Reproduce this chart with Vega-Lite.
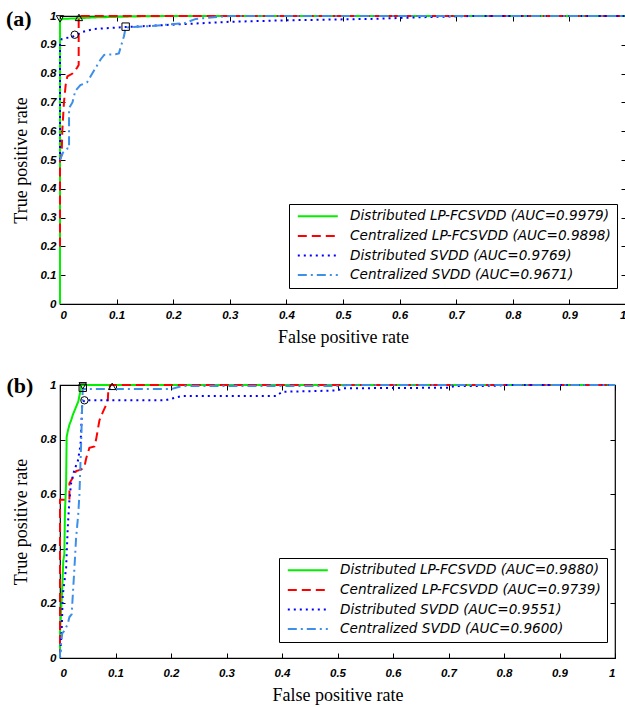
{
  "$schema": "https://vega.github.io/schema/vega-lite/v6.json",
  "background": "white",
  "padding": {"left": 5, "top": 6, "right": 0, "bottom": 0},
  "spacing": 25,
  "config": {
    "view": {"stroke": "black", "strokeWidth": 1.2},
    "axis": {
      "grid": false,
      "domain": false,
      "tickColor": "black",
      "tickSize": -5,
      "labelFont": "Liberation Sans",
      "labelFontWeight": "bold",
      "labelFontStyle": "italic",
      "labelFontSize": 11.5,
      "labelColor": "black",
      "titleFont": "Liberation Serif",
      "titleFontSize": 18,
      "titleFontWeight": "normal",
      "titleColor": "black",
      "format": "~g"
    },
    "legend": {
      "title": null,
      "orient": "none",
      "symbolType": "M-4,0H4",
      "symbolSize": 100,
      "symbolOffset": 16.5,
      "symbolStrokeWidth": 2,
      "labelFont": "DejaVu Sans",
      "labelFontStyle": "italic",
      "labelFontSize": 13.6,
      "labelColor": "black",
      "labelOffset": 25.5,
      "labelLimit": 400,
      "strokeColor": "black",
      "fillColor": "white",
      "padding": 5.5,
      "rowPadding": 4.6,
      "cornerRadius": 0
    }
  },
  "datasets": {
    "a_lines": [
      {"s": "Distributed LP-FCSVDD (AUC=0.9979)", "x": 0, "y": 0},
      {"s": "Distributed LP-FCSVDD (AUC=0.9979)", "x": 0, "y": 0.985},
      {"s": "Distributed LP-FCSVDD (AUC=0.9979)", "x": 0.005, "y": 0.99},
      {"s": "Distributed LP-FCSVDD (AUC=0.9979)", "x": 0.03, "y": 0.992},
      {"s": "Distributed LP-FCSVDD (AUC=0.9979)", "x": 0.06, "y": 0.995},
      {"s": "Distributed LP-FCSVDD (AUC=0.9979)", "x": 0.1, "y": 0.997},
      {"s": "Distributed LP-FCSVDD (AUC=0.9979)", "x": 0.15, "y": 0.999},
      {"s": "Distributed LP-FCSVDD (AUC=0.9979)", "x": 0.2, "y": 1},
      {"s": "Distributed LP-FCSVDD (AUC=0.9979)", "x": 1, "y": 1},
      {"s": "Centralized LP-FCSVDD (AUC=0.9898)", "x": 0, "y": 0.2},
      {"s": "Centralized LP-FCSVDD (AUC=0.9898)", "x": 0, "y": 0.5},
      {"s": "Centralized LP-FCSVDD (AUC=0.9898)", "x": 0.003, "y": 0.52},
      {"s": "Centralized LP-FCSVDD (AUC=0.9898)", "x": 0.004, "y": 0.6},
      {"s": "Centralized LP-FCSVDD (AUC=0.9898)", "x": 0.007, "y": 0.7},
      {"s": "Centralized LP-FCSVDD (AUC=0.9898)", "x": 0.01, "y": 0.76},
      {"s": "Centralized LP-FCSVDD (AUC=0.9898)", "x": 0.013, "y": 0.79},
      {"s": "Centralized LP-FCSVDD (AUC=0.9898)", "x": 0.022, "y": 0.8},
      {"s": "Centralized LP-FCSVDD (AUC=0.9898)", "x": 0.03, "y": 0.82},
      {"s": "Centralized LP-FCSVDD (AUC=0.9898)", "x": 0.033, "y": 0.83},
      {"s": "Centralized LP-FCSVDD (AUC=0.9898)", "x": 0.033, "y": 1},
      {"s": "Centralized LP-FCSVDD (AUC=0.9898)", "x": 0.2, "y": 1},
      {"s": "Centralized LP-FCSVDD (AUC=0.9898)", "x": 1, "y": 1},
      {"s": "Distributed SVDD (AUC=0.9769)", "x": 0, "y": 0.5},
      {"s": "Distributed SVDD (AUC=0.9769)", "x": 0, "y": 0.9},
      {"s": "Distributed SVDD (AUC=0.9769)", "x": 0.003, "y": 0.92},
      {"s": "Distributed SVDD (AUC=0.9769)", "x": 0.015, "y": 0.925},
      {"s": "Distributed SVDD (AUC=0.9769)", "x": 0.025, "y": 0.93},
      {"s": "Distributed SVDD (AUC=0.9769)", "x": 0.04, "y": 0.945},
      {"s": "Distributed SVDD (AUC=0.9769)", "x": 0.06, "y": 0.955},
      {"s": "Distributed SVDD (AUC=0.9769)", "x": 0.1, "y": 0.96},
      {"s": "Distributed SVDD (AUC=0.9769)", "x": 0.15, "y": 0.965},
      {"s": "Distributed SVDD (AUC=0.9769)", "x": 0.21, "y": 0.971},
      {"s": "Distributed SVDD (AUC=0.9769)", "x": 0.3, "y": 0.98},
      {"s": "Distributed SVDD (AUC=0.9769)", "x": 0.4, "y": 0.985},
      {"s": "Distributed SVDD (AUC=0.9769)", "x": 0.55, "y": 0.99},
      {"s": "Distributed SVDD (AUC=0.9769)", "x": 0.66, "y": 0.997},
      {"s": "Distributed SVDD (AUC=0.9769)", "x": 0.73, "y": 1},
      {"s": "Distributed SVDD (AUC=0.9769)", "x": 1, "y": 1},
      {"s": "Centralized SVDD (AUC=0.9671)", "x": 0, "y": 0.5},
      {"s": "Centralized SVDD (AUC=0.9671)", "x": 0.005, "y": 0.525},
      {"s": "Centralized SVDD (AUC=0.9671)", "x": 0.013, "y": 0.54},
      {"s": "Centralized SVDD (AUC=0.9671)", "x": 0.016, "y": 0.54},
      {"s": "Centralized SVDD (AUC=0.9671)", "x": 0.016, "y": 0.68},
      {"s": "Centralized SVDD (AUC=0.9671)", "x": 0.022, "y": 0.7},
      {"s": "Centralized SVDD (AUC=0.9671)", "x": 0.027, "y": 0.74},
      {"s": "Centralized SVDD (AUC=0.9671)", "x": 0.036, "y": 0.76},
      {"s": "Centralized SVDD (AUC=0.9671)", "x": 0.048, "y": 0.77},
      {"s": "Centralized SVDD (AUC=0.9671)", "x": 0.057, "y": 0.8},
      {"s": "Centralized SVDD (AUC=0.9671)", "x": 0.066, "y": 0.83},
      {"s": "Centralized SVDD (AUC=0.9671)", "x": 0.072, "y": 0.85},
      {"s": "Centralized SVDD (AUC=0.9671)", "x": 0.078, "y": 0.865},
      {"s": "Centralized SVDD (AUC=0.9671)", "x": 0.098, "y": 0.867},
      {"s": "Centralized SVDD (AUC=0.9671)", "x": 0.104, "y": 0.87},
      {"s": "Centralized SVDD (AUC=0.9671)", "x": 0.113, "y": 0.93},
      {"s": "Centralized SVDD (AUC=0.9671)", "x": 0.116, "y": 0.96},
      {"s": "Centralized SVDD (AUC=0.9671)", "x": 0.16, "y": 0.965},
      {"s": "Centralized SVDD (AUC=0.9671)", "x": 0.22, "y": 0.975},
      {"s": "Centralized SVDD (AUC=0.9671)", "x": 0.24, "y": 0.99},
      {"s": "Centralized SVDD (AUC=0.9671)", "x": 0.3, "y": 1},
      {"s": "Centralized SVDD (AUC=0.9671)", "x": 1, "y": 1}
    ],
    "a_pts": [
      {"m": "triangle-down", "x": 0, "y": 0.99},
      {"m": "triangle-up", "x": 0.0335, "y": 0.995},
      {"m": "circle", "x": 0.026, "y": 0.935},
      {"m": "square", "x": 0.116, "y": 0.963}
    ],
    "b_lines": [
      {"s": "Distributed LP-FCSVDD (AUC=0.9880)", "x": 0, "y": 0},
      {"s": "Distributed LP-FCSVDD (AUC=0.9880)", "x": 0, "y": 0.09},
      {"s": "Distributed LP-FCSVDD (AUC=0.9880)", "x": 0.0036, "y": 0.235},
      {"s": "Distributed LP-FCSVDD (AUC=0.9880)", "x": 0.006, "y": 0.357},
      {"s": "Distributed LP-FCSVDD (AUC=0.9880)", "x": 0.0078, "y": 0.38},
      {"s": "Distributed LP-FCSVDD (AUC=0.9880)", "x": 0.009, "y": 0.54},
      {"s": "Distributed LP-FCSVDD (AUC=0.9880)", "x": 0.011, "y": 0.64},
      {"s": "Distributed LP-FCSVDD (AUC=0.9880)", "x": 0.012, "y": 0.81},
      {"s": "Distributed LP-FCSVDD (AUC=0.9880)", "x": 0.014, "y": 0.83},
      {"s": "Distributed LP-FCSVDD (AUC=0.9880)", "x": 0.017, "y": 0.855},
      {"s": "Distributed LP-FCSVDD (AUC=0.9880)", "x": 0.02, "y": 0.87},
      {"s": "Distributed LP-FCSVDD (AUC=0.9880)", "x": 0.023, "y": 0.89},
      {"s": "Distributed LP-FCSVDD (AUC=0.9880)", "x": 0.029, "y": 0.92},
      {"s": "Distributed LP-FCSVDD (AUC=0.9880)", "x": 0.033, "y": 0.94},
      {"s": "Distributed LP-FCSVDD (AUC=0.9880)", "x": 0.037, "y": 0.98},
      {"s": "Distributed LP-FCSVDD (AUC=0.9880)", "x": 0.038, "y": 1},
      {"s": "Distributed LP-FCSVDD (AUC=0.9880)", "x": 1, "y": 1},
      {"s": "Centralized LP-FCSVDD (AUC=0.9739)", "x": 0, "y": 0},
      {"s": "Centralized LP-FCSVDD (AUC=0.9739)", "x": 0, "y": 0.58},
      {"s": "Centralized LP-FCSVDD (AUC=0.9739)", "x": 0.017, "y": 0.58},
      {"s": "Centralized LP-FCSVDD (AUC=0.9739)", "x": 0.017, "y": 0.64},
      {"s": "Centralized LP-FCSVDD (AUC=0.9739)", "x": 0.023, "y": 0.66},
      {"s": "Centralized LP-FCSVDD (AUC=0.9739)", "x": 0.029, "y": 0.685},
      {"s": "Centralized LP-FCSVDD (AUC=0.9739)", "x": 0.038, "y": 0.69},
      {"s": "Centralized LP-FCSVDD (AUC=0.9739)", "x": 0.044, "y": 0.7},
      {"s": "Centralized LP-FCSVDD (AUC=0.9739)", "x": 0.047, "y": 0.73},
      {"s": "Centralized LP-FCSVDD (AUC=0.9739)", "x": 0.053, "y": 0.77},
      {"s": "Centralized LP-FCSVDD (AUC=0.9739)", "x": 0.062, "y": 0.775},
      {"s": "Centralized LP-FCSVDD (AUC=0.9739)", "x": 0.065, "y": 0.8},
      {"s": "Centralized LP-FCSVDD (AUC=0.9739)", "x": 0.071, "y": 0.87},
      {"s": "Centralized LP-FCSVDD (AUC=0.9739)", "x": 0.077, "y": 0.9},
      {"s": "Centralized LP-FCSVDD (AUC=0.9739)", "x": 0.086, "y": 0.94},
      {"s": "Centralized LP-FCSVDD (AUC=0.9739)", "x": 0.087, "y": 0.98},
      {"s": "Centralized LP-FCSVDD (AUC=0.9739)", "x": 0.091, "y": 1},
      {"s": "Centralized LP-FCSVDD (AUC=0.9739)", "x": 0.11, "y": 1},
      {"s": "Centralized LP-FCSVDD (AUC=0.9739)", "x": 1, "y": 1},
      {"s": "Distributed SVDD (AUC=0.9551)", "x": 0, "y": 0},
      {"s": "Distributed SVDD (AUC=0.9551)", "x": 0.003, "y": 0.1},
      {"s": "Distributed SVDD (AUC=0.9551)", "x": 0.005, "y": 0.23},
      {"s": "Distributed SVDD (AUC=0.9551)", "x": 0.011, "y": 0.33},
      {"s": "Distributed SVDD (AUC=0.9551)", "x": 0.014, "y": 0.48},
      {"s": "Distributed SVDD (AUC=0.9551)", "x": 0.017, "y": 0.58},
      {"s": "Distributed SVDD (AUC=0.9551)", "x": 0.02, "y": 0.64},
      {"s": "Distributed SVDD (AUC=0.9551)", "x": 0.026, "y": 0.69},
      {"s": "Distributed SVDD (AUC=0.9551)", "x": 0.032, "y": 0.72},
      {"s": "Distributed SVDD (AUC=0.9551)", "x": 0.037, "y": 0.78},
      {"s": "Distributed SVDD (AUC=0.9551)", "x": 0.04, "y": 0.93},
      {"s": "Distributed SVDD (AUC=0.9551)", "x": 0.044, "y": 0.944},
      {"s": "Distributed SVDD (AUC=0.9551)", "x": 0.19, "y": 0.944},
      {"s": "Distributed SVDD (AUC=0.9551)", "x": 0.22, "y": 0.96},
      {"s": "Distributed SVDD (AUC=0.9551)", "x": 0.39, "y": 0.96},
      {"s": "Distributed SVDD (AUC=0.9551)", "x": 0.4, "y": 0.975},
      {"s": "Distributed SVDD (AUC=0.9551)", "x": 0.5, "y": 0.98},
      {"s": "Distributed SVDD (AUC=0.9551)", "x": 0.51, "y": 0.988},
      {"s": "Distributed SVDD (AUC=0.9551)", "x": 0.7, "y": 0.99},
      {"s": "Distributed SVDD (AUC=0.9551)", "x": 0.71, "y": 0.996},
      {"s": "Distributed SVDD (AUC=0.9551)", "x": 0.786, "y": 0.997},
      {"s": "Distributed SVDD (AUC=0.9551)", "x": 0.8, "y": 1},
      {"s": "Distributed SVDD (AUC=0.9551)", "x": 1, "y": 1},
      {"s": "Centralized SVDD (AUC=0.9600)", "x": 0, "y": 0},
      {"s": "Centralized SVDD (AUC=0.9600)", "x": 0, "y": 0.015},
      {"s": "Centralized SVDD (AUC=0.9600)", "x": 0.004, "y": 0.09},
      {"s": "Centralized SVDD (AUC=0.9600)", "x": 0.008, "y": 0.1},
      {"s": "Centralized SVDD (AUC=0.9600)", "x": 0.014, "y": 0.125},
      {"s": "Centralized SVDD (AUC=0.9600)", "x": 0.017, "y": 0.15},
      {"s": "Centralized SVDD (AUC=0.9600)", "x": 0.021, "y": 0.16},
      {"s": "Centralized SVDD (AUC=0.9600)", "x": 0.026, "y": 0.33},
      {"s": "Centralized SVDD (AUC=0.9600)", "x": 0.029, "y": 0.44},
      {"s": "Centralized SVDD (AUC=0.9600)", "x": 0.033, "y": 0.53},
      {"s": "Centralized SVDD (AUC=0.9600)", "x": 0.035, "y": 0.6},
      {"s": "Centralized SVDD (AUC=0.9600)", "x": 0.037, "y": 0.72},
      {"s": "Centralized SVDD (AUC=0.9600)", "x": 0.038, "y": 0.78},
      {"s": "Centralized SVDD (AUC=0.9600)", "x": 0.04, "y": 0.93},
      {"s": "Centralized SVDD (AUC=0.9600)", "x": 0.041, "y": 0.985},
      {"s": "Centralized SVDD (AUC=0.9600)", "x": 0.2, "y": 0.985},
      {"s": "Centralized SVDD (AUC=0.9600)", "x": 0.22, "y": 0.996},
      {"s": "Centralized SVDD (AUC=0.9600)", "x": 0.5, "y": 0.996},
      {"s": "Centralized SVDD (AUC=0.9600)", "x": 0.52, "y": 1},
      {"s": "Centralized SVDD (AUC=0.9600)", "x": 1, "y": 1}
    ],
    "b_pts": [
      {"m": "triangle-down", "x": 0.041, "y": 0.997},
      {"m": "square", "x": 0.041, "y": 0.99},
      {"m": "circle", "x": 0.044, "y": 0.944},
      {"m": "triangle-up", "x": 0.094, "y": 0.995}
    ]
  },
  "vconcat": [
    {
      "width": 566,
      "height": 288,
      "layer": [
        {
          "data": {"name": "a_lines"},
          "mark": {"type": "line", "strokeWidth": 2},
          "encoding": {
            "x": {"field": "x", "type": "quantitative", "scale": {"domain": [0, 1], "nice": false, "zero": false},
                  "axis": {"orient": "bottom", "title": "False positive rate", "values": [0, 0.1, 0.2, 0.3, 0.4, 0.5, 0.6, 0.7, 0.8, 0.9, 1], "labelPadding": 10, "titlePadding": 8}},
            "y": {"field": "y", "type": "quantitative", "scale": {"domain": [0, 1], "nice": false, "zero": false},
                  "axis": {"orient": "left", "title": "True positive rate", "values": [0, 0.1, 0.2, 0.3, 0.4, 0.5, 0.6, 0.7, 0.8, 0.9, 1], "labelPadding": 9, "titlePadding": 10}},
            "color": {"field": "s", "type": "nominal",
                      "scale": {"domain": ["Distributed LP-FCSVDD (AUC=0.9979)", "Centralized LP-FCSVDD (AUC=0.9898)", "Distributed SVDD (AUC=0.9769)", "Centralized SVDD (AUC=0.9671)"],
                                "range": ["#00f000", "#ff0000", "#0000ff", "#3d8fe8"]},
                      "legend": {"legendX": 229, "legendY": 188}},
            "strokeDash": {"field": "s", "type": "nominal",
                      "scale": {"domain": ["Distributed LP-FCSVDD (AUC=0.9979)", "Centralized LP-FCSVDD (AUC=0.9898)", "Distributed SVDD (AUC=0.9769)", "Centralized SVDD (AUC=0.9671)"],
                                "range": [[1, 0], [9, 5], [2, 4], [9, 4, 2, 4]]},
                      "legend": {"legendX": 229, "legendY": 188}},
            "order": {"value": null}
          }
        },
        {
          "data": {"name": "a_pts"},
          "mark": {"type": "point", "filled": false, "stroke": "black", "strokeWidth": 1, "size": 55, "opacity": 1},
          "encoding": {
            "x": {"field": "x", "type": "quantitative", "axis": {"orient": "top", "labels": false, "title": null, "values": [0, 0.1, 0.2, 0.3, 0.4, 0.5, 0.6, 0.7, 0.8, 0.9, 1]}},
            "y": {"field": "y", "type": "quantitative", "axis": {"orient": "right", "labels": false, "title": null, "values": [0, 0.1, 0.2, 0.3, 0.4, 0.5, 0.6, 0.7, 0.8, 0.9, 1]}},
            "shape": {"field": "m", "type": "nominal", "scale": null, "legend": null}
          }
        },
        {
          "data": {"values": [{"label": "(a)"}]},
          "mark": {"type": "text", "font": "Liberation Serif", "fontWeight": "bold", "fontSize": 22, "align": "left", "baseline": "middle", "color": "black", "clip": false},
          "encoding": {
            "text": {"field": "label"},
            "x": {"datum": -0.0954, "type": "quantitative", "axis": null},
            "y": {"datum": 0.991, "type": "quantitative", "axis": null}
          }
        }
      ],
      "resolve": {"axis": {"x": "independent", "y": "independent"}}
    },
    {
      "width": 555,
      "height": 273,
      "layer": [
        {
          "data": {"name": "b_lines"},
          "mark": {"type": "line", "strokeWidth": 2},
          "encoding": {
            "x": {"field": "x", "type": "quantitative", "scale": {"domain": [0, 1], "nice": false, "zero": false},
                  "axis": {"orient": "bottom", "title": "False positive rate", "values": [0, 0.1, 0.2, 0.3, 0.4, 0.5, 0.6, 0.7, 0.8, 0.9, 1], "labelPadding": 14, "titlePadding": 8}},
            "y": {"field": "y", "type": "quantitative", "scale": {"domain": [0, 1], "nice": false, "zero": false},
                  "axis": {"orient": "left", "title": "True positive rate", "values": [0, 0.2, 0.4, 0.6, 0.8, 1], "labelPadding": 9, "titlePadding": 10}},
            "color": {"field": "s", "type": "nominal",
                      "scale": {"domain": ["Distributed LP-FCSVDD (AUC=0.9880)", "Centralized LP-FCSVDD (AUC=0.9739)", "Distributed SVDD (AUC=0.9551)", "Centralized SVDD (AUC=0.9600)"],
                                "range": ["#00f000", "#ff0000", "#0000ff", "#3d8fe8"]},
                      "legend": {"legendX": 219, "legendY": 173}},
            "strokeDash": {"field": "s", "type": "nominal",
                      "scale": {"domain": ["Distributed LP-FCSVDD (AUC=0.9880)", "Centralized LP-FCSVDD (AUC=0.9739)", "Distributed SVDD (AUC=0.9551)", "Centralized SVDD (AUC=0.9600)"],
                                "range": [[1, 0], [9, 5], [2, 4], [9, 4, 2, 4]]},
                      "legend": {"legendX": 219, "legendY": 173}},
            "order": {"value": null}
          }
        },
        {
          "data": {"name": "b_pts"},
          "mark": {"type": "point", "filled": false, "stroke": "black", "strokeWidth": 1, "size": 55, "opacity": 1},
          "encoding": {
            "x": {"field": "x", "type": "quantitative", "axis": {"orient": "top", "labels": false, "title": null, "values": [0, 0.1, 0.2, 0.3, 0.4, 0.5, 0.6, 0.7, 0.8, 0.9, 1]}},
            "y": {"field": "y", "type": "quantitative", "axis": {"orient": "right", "labels": false, "title": null, "values": [0, 0.2, 0.4, 0.6, 0.8, 1]}},
            "shape": {"field": "m", "type": "nominal", "scale": null, "legend": null}
          }
        },
        {
          "data": {"values": [{"label": "(b)"}]},
          "mark": {"type": "text", "font": "Liberation Serif", "fontWeight": "bold", "fontSize": 22, "align": "left", "baseline": "middle", "color": "black", "clip": false},
          "encoding": {
            "text": {"field": "label"},
            "x": {"datum": -0.0964, "type": "quantitative", "axis": null},
            "y": {"datum": 0.998, "type": "quantitative", "axis": null}
          }
        }
      ],
      "resolve": {"axis": {"x": "independent", "y": "independent"}}
    }
  ],
  "resolve": {"scale": {"color": "independent", "strokeDash": "independent", "x": "independent", "y": "independent"}}
}
